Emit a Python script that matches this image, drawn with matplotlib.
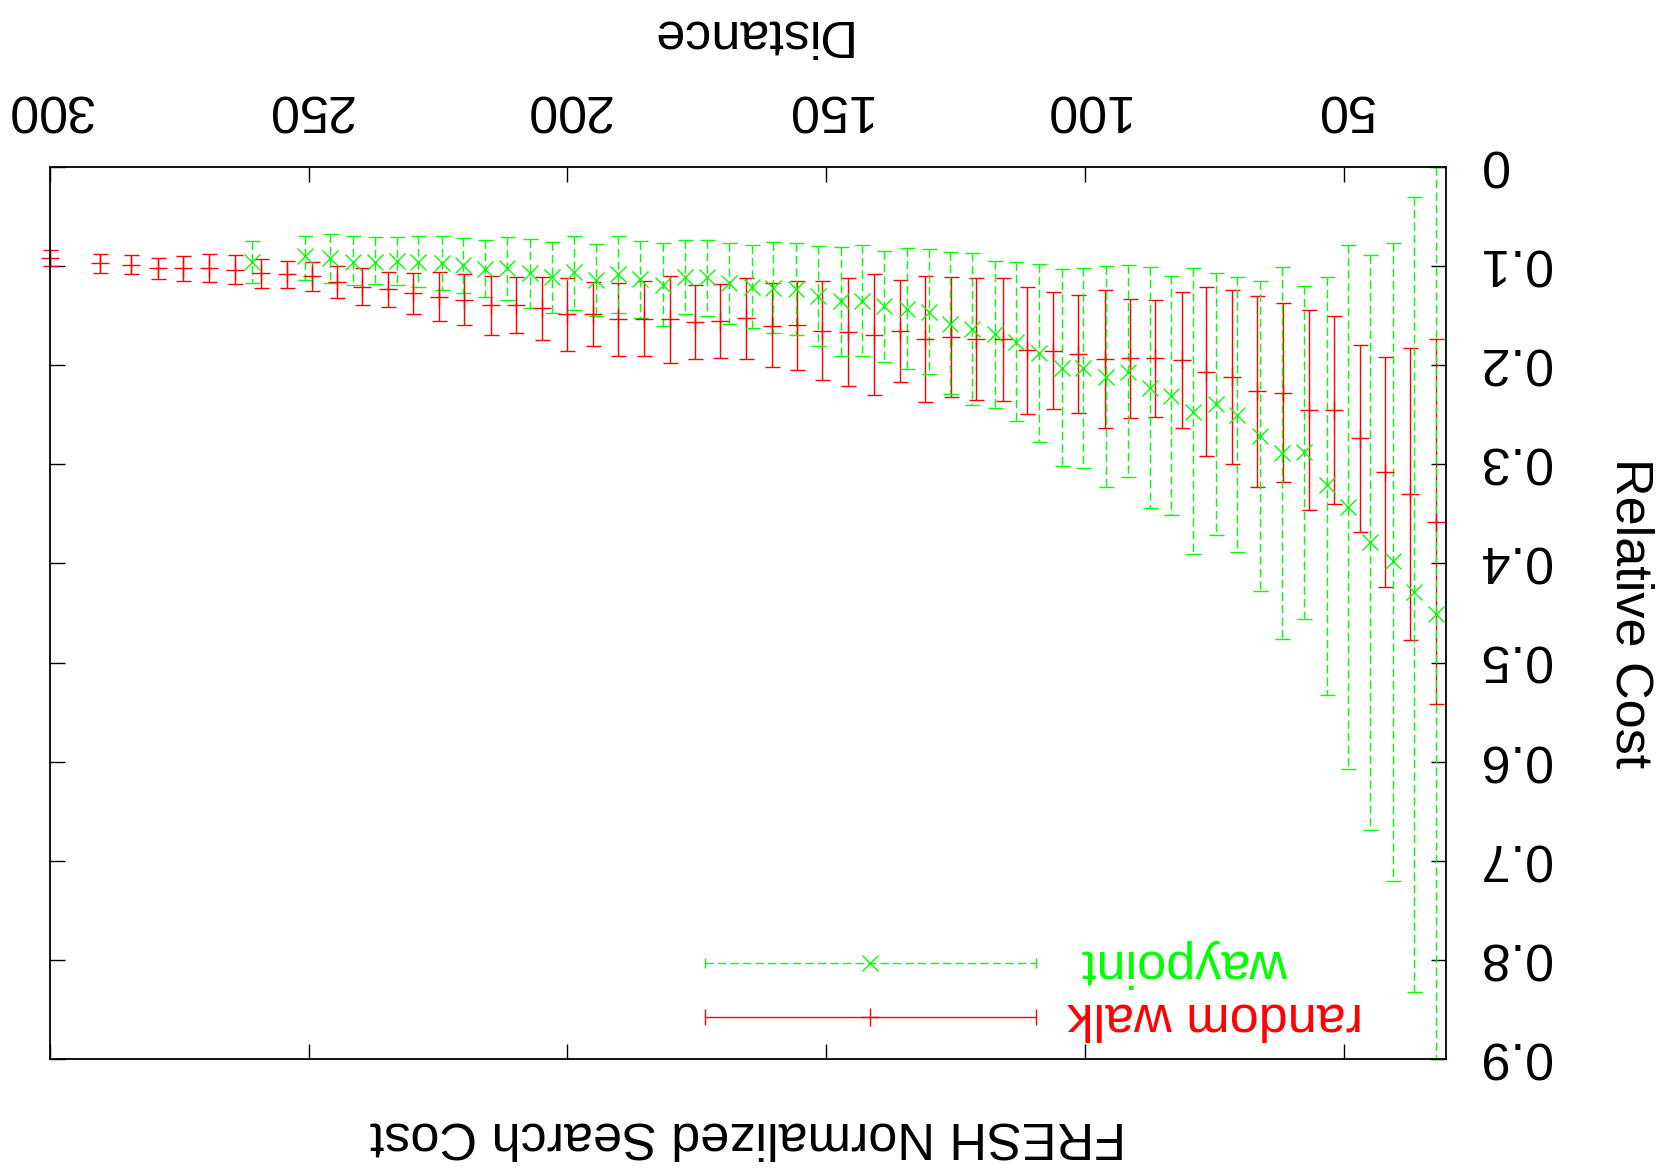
import matplotlib
matplotlib.use('Agg')
import matplotlib.pyplot as plt
import matplotlib.transforms as mtransforms
import numpy as np

plt.rcParams['font.family'] = ['Liberation Sans', 'DejaVu Sans']

# ---------------- data (chart is drawn rotated by 180 degrees) ----------------
rw_x = [300.0, 290.3, 284.3, 279.1, 274.3, 269.3, 264.3, 259.2, 254.2, 249.4,
        244.5, 239.7, 234.7, 229.9, 224.9, 220.0, 214.8, 209.9, 205.0, 200.0,
        195.0, 190.2, 185.2, 180.2, 175.4, 170.5, 165.5, 160.5, 155.7, 150.8,
        145.8, 140.7, 135.8, 130.9, 125.8, 121.0, 115.9, 111.2, 106.2, 101.4,
        96.2, 91.3, 86.5, 81.3, 76.6, 71.5, 66.7, 61.7, 56.7, 51.9,
        46.9, 42.0, 37.1, 32.2]
rw_mean = [0.0922, 0.0972, 0.0986, 0.1022, 0.1022, 0.1022, 0.1039, 0.1073, 0.1083, 0.1100,
           0.1164, 0.1208, 0.1234, 0.1275, 0.1308, 0.1339, 0.1393, 0.1393, 0.1420, 0.1486,
           0.1486, 0.1537, 0.1530, 0.1537, 0.1564, 0.1554, 0.1527, 0.1601, 0.1594, 0.1652,
           0.1662, 0.1692, 0.1652, 0.1732, 0.1712, 0.1736, 0.1736, 0.1850, 0.1853, 0.1890,
           0.1934, 0.1930, 0.1930, 0.1948, 0.2066, 0.2116, 0.2260, 0.2284, 0.2453, 0.2453,
           0.2739, 0.3082, 0.3298, 0.3580]
rw_low = [0.0838, 0.0875, 0.0888, 0.0915, 0.0895, 0.0881, 0.0891, 0.0932, 0.0949, 0.0955,
          0.0999, 0.1016, 0.1056, 0.1073, 0.1056, 0.1080, 0.1097, 0.1113, 0.1107, 0.1117,
          0.1164, 0.1167, 0.1150, 0.1097, 0.1194, 0.1184, 0.1117, 0.1174, 0.1147, 0.1153,
          0.1123, 0.1083, 0.1137, 0.1100, 0.1107, 0.1123, 0.1123, 0.1208, 0.1258, 0.1288,
          0.1241, 0.1332, 0.1342, 0.1261, 0.1208, 0.1238, 0.1302, 0.1376, 0.1443, 0.1500,
          0.1800, 0.1914, 0.1823, 0.1740]
rw_high = [0.0999, 0.1066, 0.1080, 0.1127, 0.1150, 0.1157, 0.1184, 0.1218, 0.1224, 0.1248,
           0.1325, 0.1396, 0.1416, 0.1486, 0.1557, 0.1597, 0.1692, 0.1678, 0.1746, 0.1853,
           0.1809, 0.1904, 0.1907, 0.1981, 0.1934, 0.1924, 0.1934, 0.2018, 0.2045, 0.2149,
           0.2207, 0.2301, 0.2173, 0.2368, 0.2324, 0.2354, 0.2358, 0.2492, 0.2445, 0.2485,
           0.2631, 0.2530, 0.2520, 0.2631, 0.2913, 0.2994, 0.3226, 0.3182, 0.3463, 0.3402,
           0.3685, 0.4242, 0.4770, 0.5420]

wp_x = [261.0, 250.7, 245.9, 241.4, 237.2, 232.9, 228.9, 224.2, 220.2, 216.0,
        211.7, 207.3, 203.0, 198.8, 194.4, 190.2, 185.9, 181.6, 177.3, 173.0,
        168.8, 164.3, 160.3, 155.9, 151.5, 147.2, 143.0, 138.8, 134.4, 130.2,
        126.0, 121.9, 117.4, 113.3, 108.8, 104.5, 100.4, 96.0, 91.7, 87.5,
        83.3, 79.0, 74.6, 70.5, 66.1, 61.9, 57.7, 53.2, 49.1, 44.8,
        40.5, 36.3, 32.2]
wp_mean = [0.0955, 0.0895, 0.0922, 0.0955, 0.0955, 0.0945, 0.0955, 0.0972, 0.0989, 0.1032,
           0.1022, 0.1073, 0.1113, 0.1056, 0.1140, 0.1083, 0.1133, 0.1191, 0.1107, 0.1113,
           0.1174, 0.1208, 0.1224, 0.1231, 0.1302, 0.1352, 0.1352, 0.1400, 0.1436, 0.1460,
           0.1584, 0.1638, 0.1688, 0.1763, 0.1880, 0.2025, 0.2032, 0.2116, 0.2066, 0.2227,
           0.2308, 0.2469, 0.2395, 0.2503, 0.2714, 0.2889, 0.2879, 0.3209, 0.3428, 0.3781,
           0.3973, 0.4292, 0.4514]
wp_low = [0.0743, 0.0693, 0.0679, 0.0696, 0.0710, 0.0703, 0.0693, 0.0693, 0.0713, 0.0737,
          0.0710, 0.0730, 0.0754, 0.0693, 0.0777, 0.0696, 0.0743, 0.0770, 0.0737, 0.0737,
          0.0770, 0.0784, 0.0754, 0.0764, 0.0797, 0.0810, 0.0790, 0.0845, 0.0820, 0.0827,
          0.0858, 0.0865, 0.0945, 0.0962, 0.0975, 0.1032, 0.1022, 0.0996, 0.0989, 0.1012,
          0.1097, 0.1022, 0.1073, 0.1113, 0.1147, 0.1006, 0.1200, 0.1107, 0.0787, 0.0888,
          0.0770, 0.0300, 0.0000]
wp_high = [0.1167, 0.1140, 0.1174, 0.1190, 0.1184, 0.1190, 0.1211, 0.1241, 0.1268, 0.1315,
           0.1342, 0.1426, 0.1470, 0.1443, 0.1500, 0.1470, 0.1527, 0.1604, 0.1483, 0.1500,
           0.1581, 0.1628, 0.1678, 0.1695, 0.1806, 0.1907, 0.1907, 0.1965, 0.2042, 0.2092,
           0.2291, 0.2402, 0.2435, 0.2563, 0.2772, 0.3014, 0.3034, 0.3229, 0.3125, 0.3444,
           0.3512, 0.3908, 0.3710, 0.3882, 0.4278, 0.4763, 0.4561, 0.5330, 0.6070, 0.6690,
           0.7200, 0.8320, 0.9000]

x_ticks = [50, 100, 150, 200, 250, 300]
x_tick_labels = ['50', '100', '150', '200', '250', '300']
y_ticks = [0.0, 0.1, 0.2, 0.3, 0.4, 0.5, 0.6, 0.7, 0.8, 0.9]
y_tick_labels = ['0', '0.1', '0.2', '0.3', '0.4', '0.5', '0.6', '0.7', '0.8', '0.9']
series_names = ['random walk', 'waypoint']
x_title = 'Distance'
y_title = 'Relative Cost'
chart_title = 'FRESH Normalized Search Cost'

RED = '#ff0000'
GREEN = '#00ff00'
FS = 37.5

fig = plt.figure(figsize=(16.7, 11.68), dpi=100)
W, H = 1670.0, 1168.0
ax = fig.add_axes([50 / W, 1 - 1059 / H, 1396 / W, 892 / H])
ax.set_xlim(300, 30.2)
ax.set_ylim(0.9, 0.0)


def draw_series(x, mean, low, high, color, marker, ms, dashed):
    mean = np.asarray(mean)
    yerr = [mean - np.asarray(low), np.asarray(high) - mean]
    cont = ax.errorbar(x, mean, yerr=yerr, fmt=marker, color=color, ecolor=color,
                       ms=ms, mew=1.0, elinewidth=1.0, capsize=5.4, capthick=1.0,
                       linestyle='none')
    for art in cont.get_children():
        art.set_clip_on(False)
    if dashed:
        for lc in cont[2]:
            lc.set_linestyle((0, (6, 3)))
    return cont


draw_series(rw_x, rw_mean, rw_low, rw_high, RED, '+', 12.5, False)
draw_series(wp_x, wp_mean, wp_low, wp_high, GREEN, 'x', 11, True)

# frame and ticks
for sp in ax.spines.values():
    sp.set_linewidth(1.3)
ax.set_xticks(x_ticks)
ax.set_yticks(y_ticks)
ax.tick_params(axis='both', which='both', direction='in', length=10.5, width=1.0,
               top=True, bottom=True, left=True, right=True,
               labeltop=False, labelbottom=False, labelleft=False, labelright=False)

# tick labels (upside down)
xlab_tr = mtransforms.offset_copy(
    mtransforms.blended_transform_factory(ax.transData, ax.transAxes),
    fig=fig, x=0, y=25, units='points')
for xv, lab in zip(x_ticks, x_tick_labels):
    ax.text(xv, 1.0, lab, transform=xlab_tr, rotation=180, ha='center', va='bottom',
            fontsize=FS)
ylab_tr = mtransforms.offset_copy(
    mtransforms.blended_transform_factory(ax.transAxes, ax.transData),
    fig=fig, x=23, y=3, units='points')
for yv, lab in zip(y_ticks, y_tick_labels):
    ax.text(1.0, yv, lab, transform=ylab_tr, rotation=180, ha='left', va='center',
            fontsize=FS)

# axis titles
fig.text(748 / W, 1 - 34 / H, x_title, rotation=180, ha='center', va='center', fontsize=FS)
fig.text(1630 / W, 1 - 613 / H, y_title, rotation=270, ha='center', va='center', fontsize=FS)
fig.text(748 / W, 1 - 1136 / H, chart_title, rotation=180, ha='center', va='center', fontsize=FS)

# legend (key) drawn by hand, upside down
key_x0, key_x1 = 0.469, 0.706
key_y = [0.0471, 0.1076]
key_text_x = [0.729, 0.739]
# random walk sample
ax.plot([key_x0, key_x1], [key_y[0], key_y[0]], color=RED, lw=1.0, transform=ax.transAxes,
        clip_on=False)
ax.plot([key_x0, key_x1], [key_y[0], key_y[0]], linestyle='none', marker='|', ms=11,
        mew=1.0, color=RED, transform=ax.transAxes, clip_on=False)
ax.plot([(key_x0 + key_x1) / 2], [key_y[0]], marker='+', ms=12.5, mew=1.0, color=RED,
        transform=ax.transAxes, clip_on=False)
# waypoint sample
ax.plot([key_x0, key_x1], [key_y[1], key_y[1]], color=GREEN, lw=1.0,
        linestyle=(0, (6, 3)), transform=ax.transAxes, clip_on=False)
ax.plot([key_x0, key_x1], [key_y[1], key_y[1]], linestyle='none', marker='|', ms=7,
        mew=1.0, color=GREEN, transform=ax.transAxes, clip_on=False)
ax.plot([(key_x0 + key_x1) / 2], [key_y[1]], marker='x', ms=11, mew=1.0, color=GREEN,
        transform=ax.transAxes, clip_on=False)
ax.text(key_text_x[0], key_y[0], series_names[0], transform=ax.transAxes, rotation=180,
        ha='left', va='center', fontsize=FS, color=RED)
ax.text(key_text_x[1], key_y[1], series_names[1], transform=ax.transAxes, rotation=180,
        ha='left', va='center', fontsize=FS, color=GREEN)

fig.savefig('out.png', dpi=100)
